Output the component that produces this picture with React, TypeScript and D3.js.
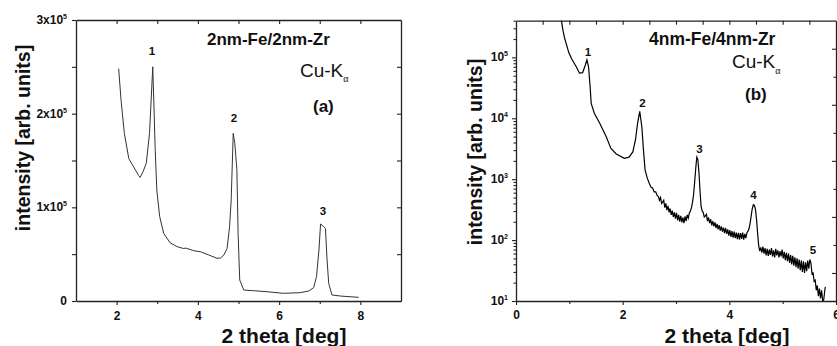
import React, { useRef, useEffect } from 'react';
import * as d3 from 'd3';

// panel (a) 2nm-Fe/2nm-Zr, linear intensity
const thetaA = [2.05, 2.11, 2.19, 2.30, 2.42, 2.54, 2.58, 2.65, 2.73, 2.81, 2.89, 2.95, 2.99, 3.06, 3.16, 3.32, 3.49, 3.65, 3.70, 3.90, 4.06, 4.27, 4.47, 4.56, 4.64, 4.72, 4.78, 4.82, 4.87, 4.91, 4.96, 4.99, 5.03, 5.13, 5.37, 5.70, 6.11, 6.52, 6.73, 6.85, 6.92, 6.98, 7.02, 7.10, 7.14, 7.18, 7.22, 7.30, 7.51, 7.96];
const intensityA = [248000, 214000, 179000, 152000, 143000, 134000, 132000, 138000, 147000, 179000, 250000, 161000, 118000, 90000, 72000, 62000, 58000, 56000, 56500, 53700, 52600, 49100, 45600, 46000, 49100, 56200, 79300, 108000, 179000, 168000, 140000, 72300, 22400, 11700, 11000, 9900, 8200, 8900, 10700, 14200, 26000, 54400, 82200, 79300, 77500, 43800, 18900, 6400, 5300, 3900];

// panel (b) 4nm-Fe/4nm-Zr, log intensity
const thetaB = [0.82, 0.85, 0.88, 0.91, 0.94, 0.99, 1.04, 1.13, 1.19, 1.25, 1.30, 1.33, 1.36, 1.39, 1.41, 1.47, 1.57, 1.69, 1.78, 1.88, 2.03, 2.12, 2.19, 2.24, 2.28, 2.32, 2.36, 2.39, 2.42, 2.46,
  2.50, 2.53, 2.56, 2.59, 2.62, 2.645, 2.67, 2.69, 2.71, 2.73, 2.75, 2.77, 2.79, 2.81, 2.83, 2.85, 2.87, 2.89, 2.91, 2.93, 2.95, 2.97, 2.99, 3.01, 3.03, 3.05, 3.07, 3.09, 3.11, 3.13, 3.15, 3.17, 3.19, 3.21, 3.23, 3.25, 3.27, 3.29, 3.31, 3.33, 3.35, 3.37, 3.39, 3.41, 3.43, 3.45, 3.47, 3.49,
  3.51, 3.53, 3.55, 3.57, 3.59, 3.61, 3.63, 3.65, 3.67, 3.69, 3.71, 3.73, 3.75, 3.77, 3.79, 3.81, 3.83, 3.85, 3.87, 3.89, 3.91, 3.93, 3.95, 3.97, 3.99, 4.01, 4.03, 4.05, 4.07, 4.09, 4.11, 4.13, 4.15, 4.17, 4.19, 4.21, 4.23, 4.25, 4.27, 4.29, 4.31, 4.33, 4.35, 4.37, 4.39, 4.41, 4.43, 4.45, 4.47, 4.49,
  4.51, 4.53, 4.55, 4.57, 4.59, 4.61, 4.63, 4.65, 4.67, 4.69, 4.71, 4.73, 4.75, 4.77, 4.79, 4.81, 4.83, 4.85, 4.87, 4.89, 4.91, 4.93, 4.95, 4.97, 4.99, 5.01, 5.03, 5.05, 5.07, 5.09, 5.11, 5.13, 5.15, 5.17, 5.19, 5.21, 5.23, 5.25, 5.27, 5.29, 5.31, 5.33, 5.35, 5.37, 5.39, 5.41, 5.43, 5.45, 5.47, 5.49,
  5.51, 5.53, 5.55, 5.57, 5.59, 5.61, 5.63, 5.65, 5.67, 5.69, 5.71, 5.73, 5.75, 5.77, 5.79, 5.80];
const intensityB = [520000, 410000, 280000, 210000, 170000, 120000, 96000, 70000, 55000, 56000, 75000, 91000, 70000, 33000, 17500, 12000, 8300, 5000, 3200, 2600, 2200, 2300, 2800, 4400, 8300, 13000, 7200, 3000, 1420, 1050,
  850, 740, 720, 620, 620, 540, 520, 450, 500, 400, 420, 450, 340, 400, 310, 365, 285, 330, 260, 305, 240, 285, 225, 280, 210, 260, 200, 250, 195, 235, 190, 245, 205, 260, 230, 280, 300, 340, 420, 560, 900, 1500, 2300, 2100, 1300, 650, 360, 300,
  285, 240, 250, 265, 205, 235, 190, 220, 175, 205, 168, 195, 158, 185, 150, 176, 143, 168, 138, 160, 130, 158, 126, 150, 118, 146, 113, 140, 110, 138, 108, 133, 104, 132, 102, 130, 105, 133, 102, 127, 108, 132, 140, 155, 190, 250, 330, 380, 370, 320,
  220, 130, 82, 66, 76, 62, 78, 60, 74, 56, 72, 55, 70, 57, 74, 54, 68, 52, 72, 56, 68, 52, 66, 54, 70, 50, 64, 47, 62, 45, 60, 42, 57, 40, 55, 38, 52, 36, 50, 34, 48, 32, 46, 30, 45, 29, 43, 31, 46, 34,
  48, 42, 28, 29, 21, 22, 15, 18, 12, 16, 11, 15, 10, 10.5, 15, 17];

// ticks
const xLabelsA = [2, 4, 6, 8];
const xMinorA = [3, 5, 7];
const xTopA = [2, 3, 4, 5, 6, 7, 8];
const yTicksA = [0, 50000, 100000, 150000, 200000, 250000, 300000];
const yLabelsA = [0, 100000, 200000, 300000];
const yRightA = [50000, 100000, 150000, 200000, 250000];

const xLabelsB = [0, 2, 4, 6];
const xMinorB = [1, 3, 5];
const xTopB = [0.5, 1, 1.5, 2, 2.5, 3, 3.5, 4, 4.5, 5, 5.5];
const decadesB = [10, 100, 1000, 10000, 100000];
const rightTicksB = [1, 2, 3, 4, 5, 6, 7, 8, 9];

// peak numbers, placed in data units
const peaksA = [
  { label: '1', theta: 2.87, value: 262600 },
  { label: '2', theta: 4.89, value: 191600 },
  { label: '3', theta: 7.08, value: 91300 },
];
const peaksB = [
  { label: '1', theta: 1.35, value: 105000 },
  { label: '2', theta: 2.37, value: 15500 },
  { label: '3', theta: 3.44, value: 2720 },
  { label: '4', theta: 4.45, value: 473 },
  { label: '5', theta: 5.57, value: 59 },
];

const FONT = 'Arial, "Liberation Sans", Helvetica, sans-serif';
const AXIS = '#222';

function styleAxis(sel: any, withDomain = true) {
  sel.attr('font-family', null).attr('font-size', null);
  if (withDomain) sel.select('.domain').attr('stroke', AXIS).attr('stroke-width', 1.3);
  else sel.select('.domain').remove();
  sel.selectAll('.tick line').attr('stroke', AXIS).attr('stroke-width', 1.1);
  sel.selectAll('.tick text')
    .attr('font-family', FONT)
    .attr('font-weight', 700)
    .attr('font-size', 12)
    .attr('fill', '#111');
}

export default function App() {
  const ref = useRef<SVGSVGElement>(null);

  useEffect(() => {
    const svg = d3.select(ref.current);
    svg.selectAll('*').remove();

    // ---------- panel (a)
    const xA = d3.scaleLinear().domain([1, 9]).range([76, 401]);
    const yA = d3.scaleLinear().domain([0, 300000]).range([301, 20]);
    const gA = svg.append('g');

    gA.append('g').attr('transform', 'translate(0,301)')
      .call(d3.axisBottom(xA).tickValues(xLabelsA).tickSize(4).tickSizeOuter(0).tickFormat(d3.format('d')))
      .call(styleAxis)
      .selectAll('.tick text').attr('y', 10);
    gA.append('g').attr('transform', 'translate(0,301)')
      .call(d3.axisBottom(xA).tickValues(xMinorA).tickSize(3).tickFormat(() => ''))
      .call(styleAxis, false);
    gA.append('g').attr('transform', 'translate(0,20)')
      .call(d3.axisTop(xA).tickValues(xTopA).tickSize(-4).tickSizeOuter(0).tickFormat(() => ''))
      .call(styleAxis);
    gA.append('g').attr('transform', 'translate(76,0)')
      .call(d3.axisLeft(yA).tickValues(yTicksA).tickSize(4).tickSizeOuter(0).tickFormat(() => ''))
      .call(styleAxis);
    gA.append('g').attr('transform', 'translate(401,0)')
      .call(d3.axisRight(yA).tickValues(yRightA).tickSize(-4).tickSizeOuter(0).tickFormat(() => ''))
      .call(styleAxis);

    // y labels with exponent
    yLabelsA.forEach(v => {
      const t = gA.append('text')
        .attr('x', 67).attr('y', yA(v) + 4)
        .attr('text-anchor', 'end')
        .attr('font-family', FONT).attr('font-weight', 700).attr('font-size', 12).attr('fill', '#111');
      if (v === 0) { t.text('0'); return; }
      t.append('tspan').text(`${v / 100000}x10`);
      t.append('tspan').attr('dy', -5).attr('font-size', 7).text('5');
    });

    gA.append('path')
      .datum(thetaA.map((t, i) => [t, intensityA[i]]))
      .attr('fill', 'none')
      .attr('stroke', '#333')
      .attr('stroke-width', 1)
      .attr('d', d3.line<number[]>().x(d => xA(d[0])).y(d => yA(d[1])));

    peaksA.forEach(p => {
      gA.append('text')
        .attr('x', xA(p.theta)).attr('y', yA(p.value))
        .attr('text-anchor', 'middle')
        .attr('font-family', FONT).attr('font-weight', 700).attr('font-size', 11.5).attr('fill', '#111')
        .text(p.label);
    });

    gA.append('text').attr('x', 207).attr('y', 45)
      .attr('font-family', FONT).attr('font-weight', 700).attr('font-size', 17).attr('fill', '#111')
      .text('2nm-Fe/2nm-Zr');
    const cuA = gA.append('text').attr('x', 300).attr('y', 77)
      .attr('font-family', FONT).attr('font-size', 19).attr('fill', '#111');
    cuA.append('tspan').text('Cu-K');
    cuA.append('tspan').attr('dy', 5).attr('font-size', 10).attr('font-family', '"Liberation Serif", serif').text('α');
    gA.append('text').attr('x', 313).attr('y', 112)
      .attr('font-family', FONT).attr('font-weight', 700).attr('font-size', 17).attr('fill', '#111')
      .text('(a)');

    gA.append('text').attr('x', 284).attr('y', 343)
      .attr('text-anchor', 'middle')
      .attr('font-family', FONT).attr('font-weight', 700).attr('font-size', 21).attr('fill', '#111')
      .text('2 theta [deg]');
    gA.append('text')
      .attr('transform', 'rotate(-90)')
      .attr('x', -138).attr('y', 30)
      .attr('text-anchor', 'middle')
      .attr('font-family', FONT).attr('font-weight', 700).attr('font-size', 19.5).attr('fill', '#111')
      .text('intensity [arb. units]');

    // ---------- panel (b)
    const xB = d3.scaleLinear().domain([0, 6]).range([516, 836]);
    const yB = d3.scaleLog().domain([10, 400000]).range([301, 20.7]);
    const yR = d3.scaleLinear().domain([0, 10]).range([301, 20.7]);
    const gB = svg.append('g');

    svg.append('defs').append('clipPath').attr('id', 'clipB')
      .append('rect').attr('x', 516).attr('y', 20.7).attr('width', 320).attr('height', 280.3);

    gB.append('g').attr('transform', 'translate(0,301)')
      .call(d3.axisBottom(xB).tickValues(xLabelsB).tickSize(4).tickSizeOuter(0).tickFormat(d3.format('d')))
      .call(styleAxis)
      .selectAll('.tick text').attr('y', 9);
    gB.append('g').attr('transform', 'translate(0,301)')
      .call(d3.axisBottom(xB).tickValues(xMinorB).tickSize(3).tickFormat(() => ''))
      .call(styleAxis, false);
    gB.append('g').attr('transform', 'translate(0,20.7)')
      .call(d3.axisTop(xB).tickValues(xTopB).tickSize(-4).tickSizeOuter(0).tickFormat(() => ''))
      .call(styleAxis);

    const minorB: number[] = [];
    decadesB.forEach(d => {
      for (let k = 2; k <= 9; k++) if (d * k <= 400000) minorB.push(d * k);
    });
    gB.append('g').attr('transform', 'translate(516,0)')
      .call(d3.axisLeft(yB).tickValues(decadesB).tickSize(4).tickSizeOuter(0).tickFormat(() => ''))
      .call(styleAxis);
    gB.append('g').attr('transform', 'translate(516,0)')
      .call(d3.axisLeft(yB).tickValues(minorB).tickSize(2.5).tickFormat(() => ''))
      .call(styleAxis, false);
    gB.append('g').attr('transform', 'translate(836,0)')
      .call(d3.axisRight(yR).tickValues(rightTicksB).tickSize(-4).tickSizeOuter(0).tickFormat(() => ''))
      .call(styleAxis)
      .selectAll('.tick line')
      .attr('x2', (d: any) => (d % 2 === 1 ? -4 : -2.5));

    decadesB.forEach((v, i) => {
      const t = gB.append('text')
        .attr('x', 508).attr('y', yB(v) + 4)
        .attr('text-anchor', 'end')
        .attr('font-family', FONT).attr('font-weight', 700).attr('font-size', 12).attr('fill', '#111');
      t.append('tspan').text('10');
      t.append('tspan').attr('dy', -5).attr('font-size', 7).text(String(i + 1));
    });

    gB.append('path')
      .datum(thetaB.map((t, i) => [t, intensityB[i]]))
      .attr('clip-path', 'url(#clipB)')
      .attr('fill', 'none')
      .attr('stroke', '#000')
      .attr('stroke-width', 1.2)
      .attr('d', d3.line<number[]>().x(d => xB(d[0])).y(d => yB(d[1])));

    peaksB.forEach(p => {
      gB.append('text')
        .attr('x', xB(p.theta)).attr('y', yB(p.value))
        .attr('text-anchor', 'middle')
        .attr('font-family', FONT).attr('font-weight', 700).attr('font-size', 11.5).attr('fill', '#111')
        .text(p.label);
    });

    gB.append('text').attr('x', 649).attr('y', 45)
      .attr('font-family', FONT).attr('font-weight', 700).attr('font-size', 17.5).attr('fill', '#111')
      .text('4nm-Fe/4nm-Zr');
    const cuB = gB.append('text').attr('x', 732).attr('y', 68)
      .attr('font-family', FONT).attr('font-size', 19).attr('fill', '#111');
    cuB.append('tspan').text('Cu-K');
    cuB.append('tspan').attr('dy', 6).attr('font-size', 10).attr('font-family', '"Liberation Serif", serif').text('α');
    gB.append('text').attr('x', 745).attr('y', 100)
      .attr('font-family', FONT).attr('font-weight', 700).attr('font-size', 17).attr('fill', '#111')
      .text('(b)');

    gB.append('text').attr('x', 727).attr('y', 343)
      .attr('text-anchor', 'middle')
      .attr('font-family', FONT).attr('font-weight', 700).attr('font-size', 21).attr('fill', '#111')
      .text('2 theta [deg]');
    gB.append('text')
      .attr('transform', 'rotate(-90)')
      .attr('x', -152).attr('y', 482)
      .attr('text-anchor', 'middle')
      .attr('font-family', FONT).attr('font-weight', 700).attr('font-size', 19.5).attr('fill', '#111')
      .text('intensity [arb. units]');
  }, []);

  return (
    <svg
      ref={ref}
      width={837}
      height={346}
      style={{ position: 'absolute', left: 0, top: 0, display: 'block', background: '#fff' }}
    />
  );
}
